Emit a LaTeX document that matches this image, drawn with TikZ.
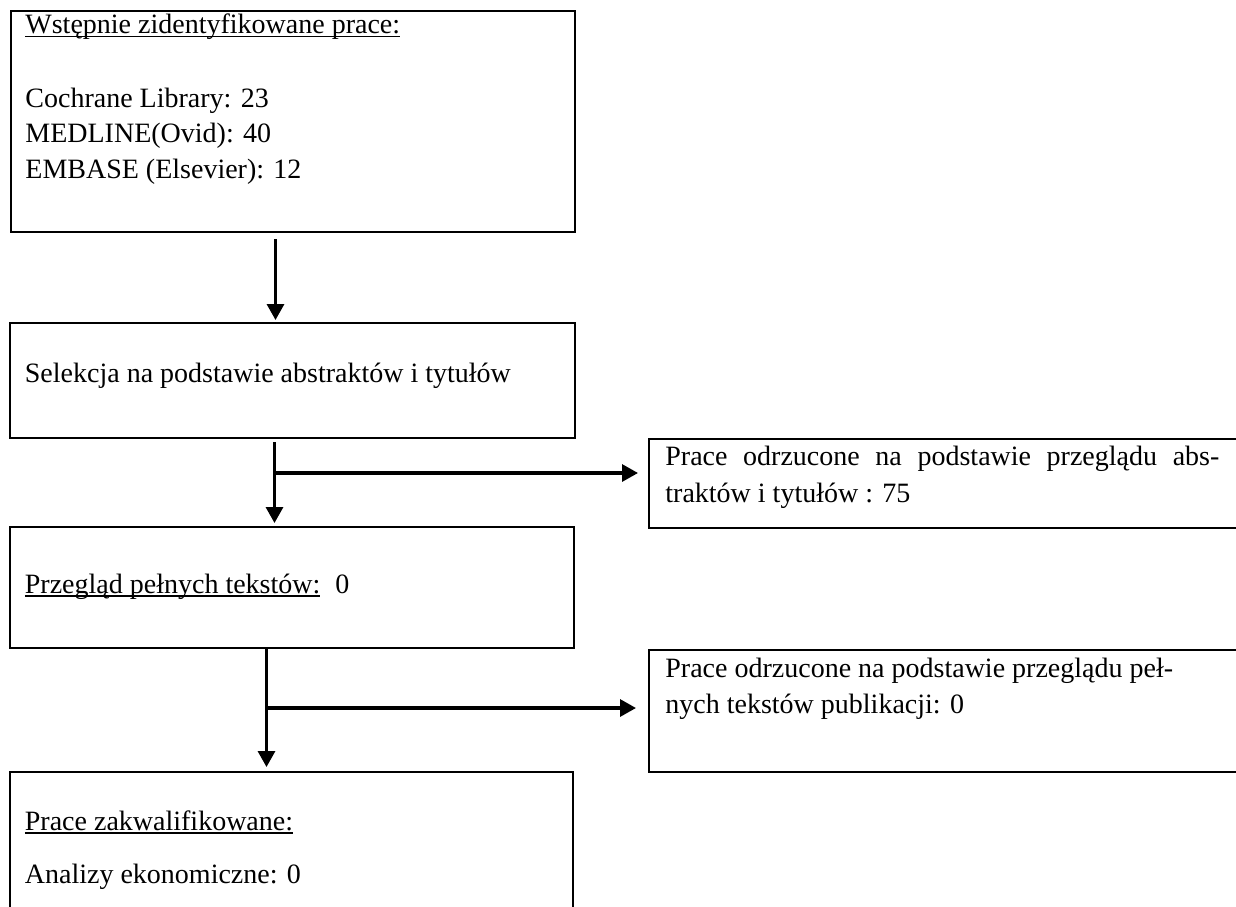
\documentclass[tikz,border=0pt]{standalone}
\usepackage{fontspec}
\setmainfont{Liberation Serif}
\usetikzlibrary{arrows.meta}
\newcommand\myul[1]{\setbox0\hbox{#1}\rlap{\rule[-1.9pt]{\wd0}{0.8pt}}\box0}
\tikzset{
  box/.style={draw, line width=1pt, inner sep=0pt, anchor=north west},
  txt/.style={anchor=base west, inner sep=0pt, font=\fontsize{14}{17}\selectfont},
  arr/.style={line width=1.6pt, -{Triangle[length=8pt,width=8.5pt]}},
}
\begin{document}
\begin{tikzpicture}[x=0.5pt,y=-0.5pt]
\clip (0,0) rectangle (1236,906);
\fill[white] (0,0) rectangle (1236,906);
% boxes
\node[box, minimum width=282pt,   minimum height=110.5pt] (B1) at (10,10) {};
\node[box, minimum width=282.5pt, minimum height=57.5pt]  (B2) at (9,322) {};
\node[box, minimum width=282pt,   minimum height=60.5pt]  (B3) at (9,526) {};
\node[box, minimum width=281.5pt, minimum height=75pt]    (B4) at (9,771) {};
\node[box, minimum width=298.5pt, minimum height=44.5pt]  (R1) at (648,438) {};
\node[box, minimum width=298.5pt, minimum height=61pt]    (R2) at (648,649) {};
% texts
\node[txt] (t1) at (25,33.5) {\myul{Wstępnie zidentyfikowane prace:}};
\node[txt] (t2) at (25,107) {Cochrane Library: 23};
\node[txt] (t3) at (25,142) {MEDLINE(Ovid): 40};
\node[txt] (t4) at (25,178) {EMBASE (Elsevier): 12};
\node[txt] (t5) at (24.5,382) {Selekcja na podstawie abstraktów i tytułów};
\node[txt] (t6) at (24.5,593) {\myul{Przegląd pełnych tekstów:}\hspace{7.5pt}0};
\node[txt] (t7) at (24.5,830) {\myul{Prace zakwalifikowane:}};
\node[txt] (t8) at (24.5,883) {Analizy ekonomiczne: 0};
\node[txt] (r1a) at (665,465) {\makebox[277pt][s]{Prace odrzucone na podstawie przeglądu abs-}};
\node[txt] (r1b) at (665,502) {traktów i tytułów : 75};
\node[txt] (r2a) at (665,677) {Prace odrzucone na podstawie przeglądu peł-};
\node[txt] (r2b) at (665,713) {nych tekstów publikacji: 0};
% connectors
\coordinate (x1) at (275.5,0);
\coordinate (j1) at (274.5,473);
\coordinate (j2) at (266.5,708);
\draw[arr] ([yshift=-3pt]B1.south -| x1) -- ([yshift=1pt]B2.north -| x1);
\draw[arr] ([yshift=-1.5pt]B2.south -| j1) -- ([yshift=1.5pt]B3.north -| j1);
\draw[arr] (j1) -- ([xshift=-5pt]R1.west |- j1);
\draw[arr] (B3.south -| j2) -- ([yshift=2pt]B4.north -| j2);
\draw[arr] (j2) -- ([xshift=-6pt]R2.west |- j2);
\end{tikzpicture}
\end{document}
